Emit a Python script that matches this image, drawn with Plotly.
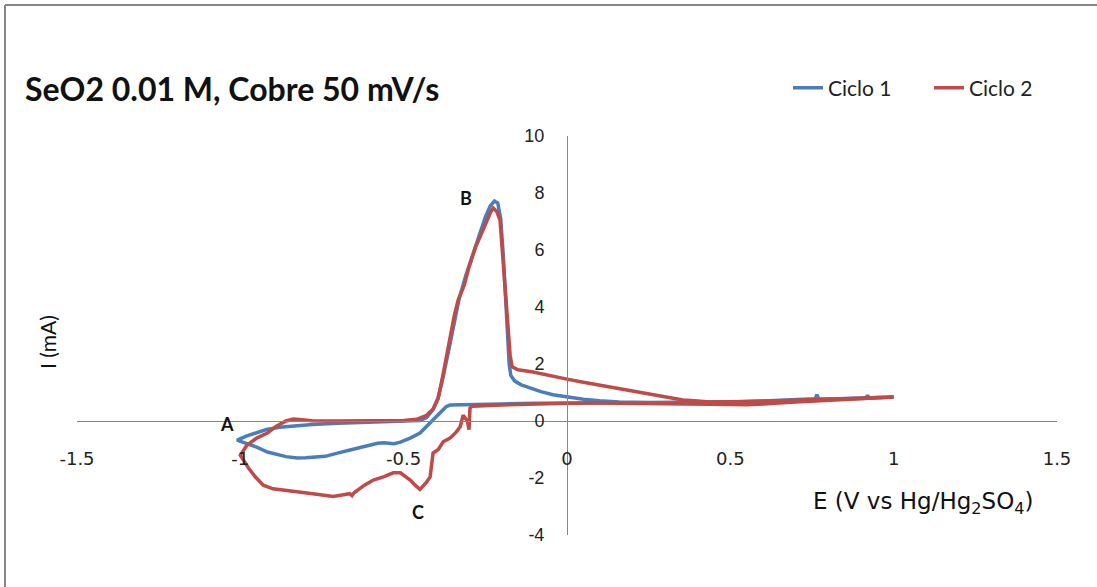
import plotly.graph_objects as go

# Cyclic voltammetry data, potential E (V vs Hg/Hg2SO4) and current I (mA)
ciclo1_E = [1.00, 0.95, 0.90, 0.80, 0.77, 0.765, 0.76, 0.70, 0.60, 0.50, 0.40, 0.30, 0.20, 0.10,
            0.00, -0.10, -0.20, -0.30, -0.358, -0.37, -0.38, -0.395, -0.41, -0.43, -0.45, -0.48,
            -0.51, -0.53, -0.56, -0.58, -0.62, -0.664, -0.70, -0.74, -0.80, -0.826, -0.86, -0.917,
            -0.95, -0.99, -1.01,
            -0.98, -0.95, -0.92, -0.88, -0.84, -0.78, -0.70, -0.60, -0.50, -0.45, -0.43, -0.41,
            -0.395, -0.38, -0.36, -0.345, -0.33, -0.31, -0.29, -0.27, -0.25, -0.235, -0.222,
            -0.212, -0.203, -0.195, -0.188, -0.182, -0.177, -0.172, -0.16, -0.14, -0.122, -0.08,
            -0.043, 0.00, 0.05, 0.10, 0.16, 0.25, 0.40, 0.55, 0.70, 0.85, 0.915, 0.92, 0.925, 1.00]
ciclo1_I = [0.84, 0.82, 0.80, 0.77, 0.78, 0.92, 0.78, 0.74, 0.70, 0.67, 0.65, 0.64, 0.64, 0.64,
            0.63, 0.62, 0.60, 0.58, 0.56, 0.50, 0.39, 0.20, 0.03, -0.20, -0.42, -0.60,
            -0.74, -0.80, -0.76, -0.78, -0.88, -1.02, -1.12, -1.24, -1.29, -1.30, -1.25, -1.09,
            -0.92, -0.75, -0.67,
            -0.52, -0.40, -0.30, -0.22, -0.18, -0.12, -0.08, -0.05, -0.02, 0.02, 0.12, 0.40,
            0.80, 1.50, 2.60, 3.50, 4.30, 5.10, 5.80, 6.50, 7.15, 7.55, 7.72,
            7.65, 7.10, 5.80, 4.20, 3.00, 2.00, 1.60, 1.40, 1.27, 1.20, 1.03,
            0.92, 0.85, 0.76, 0.71, 0.67, 0.65, 0.65, 0.68, 0.72, 0.78, 0.80, 0.90, 0.80, 0.84]

ciclo2_E = [1.00, 0.90, 0.80, 0.70, 0.60, 0.55, 0.50, 0.40, 0.30, 0.20, 0.10, 0.00, -0.10,
            -0.20, -0.29, -0.297, -0.30, -0.305, -0.318, -0.327, -0.34, -0.358, -0.379, -0.394,
            -0.41, -0.419, -0.43, -0.44, -0.45, -0.465, -0.48, -0.51, -0.532, -0.56, -0.593,
            -0.62, -0.642, -0.652, -0.658, -0.665, -0.68, -0.70, -0.716, -0.76, -0.817, -0.87,
            -0.90, -0.93, -0.955, -0.975, -0.99, -1.00,
            -0.98, -0.95, -0.917, -0.89, -0.86, -0.838, -0.82, -0.78, -0.70, -0.60, -0.50, -0.46,
            -0.43, -0.41, -0.394, -0.38, -0.36, -0.345, -0.333, -0.325, -0.315, -0.30, -0.28,
            -0.266, -0.25, -0.235, -0.226, -0.215, -0.205, -0.198, -0.19, -0.18, -0.174,
            -0.168, -0.15, -0.104, -0.05, 0.00, 0.05, 0.10, 0.153, 0.20, 0.25, 0.30, 0.355, 0.40,
            0.437, 0.55, 0.70, 0.85, 1.00]
ciclo2_I = [0.84, 0.79, 0.74, 0.67, 0.60, 0.57, 0.58, 0.60, 0.62, 0.63, 0.63, 0.62, 0.60,
            0.56, 0.52, 0.45, -0.30, 0.00, 0.20, -0.20, -0.40, -0.60, -0.73, -1.00,
            -1.12, -1.96, -2.15, -2.30, -2.40, -2.25, -2.07, -1.82, -1.82, -1.95, -2.07,
            -2.25, -2.42, -2.52, -2.62, -2.55, -2.58, -2.63, -2.65, -2.58, -2.50, -2.42,
            -2.38, -2.25, -1.95, -1.65, -1.40, -1.20,
            -0.85, -0.60, -0.42, -0.18, 0.00, 0.07, 0.05, 0.01, 0.00, 0.00, 0.02, 0.06,
            0.20, 0.42, 0.80, 1.60, 2.80, 3.70, 4.25, 4.45, 4.75, 5.40, 6.10,
            6.46, 6.90, 7.30, 7.47, 7.35, 7.05, 6.00, 4.95, 3.20, 2.30,
            1.90, 1.80, 1.72, 1.58, 1.47, 1.36, 1.26, 1.16, 1.06, 0.95, 0.84, 0.74, 0.70,
            0.67, 0.68, 0.72, 0.78, 0.84]

x_ticks = [-1.5, -1, -0.5, 0, 0.5, 1, 1.5]
x_tick_text = ["-1.5", "-1", "-0.5", "0", "0.5", "1", "1.5"]
y_ticks = [-4, -2, 0, 2, 4, 6, 8, 10]
y_tick_text = ["-4", "-2", "0", "2", "4", "6", "8", "10"]

peak_labels = ["A", "B", "C"]
peak_E = [-1.04, -0.31, -0.455]
peak_I = [-0.12, 7.82, -3.2]

BLUE = "#4a7ebb"
RED = "#be4b48"
AXIS = "#868686"

fig = go.Figure()
fig.add_trace(go.Scatter(x=ciclo1_E, y=ciclo1_I, mode="lines", name="Ciclo 1",
                         line=dict(color=BLUE, width=3.5)))
fig.add_trace(go.Scatter(x=ciclo2_E, y=ciclo2_I, mode="lines", name="Ciclo 2",
                         line=dict(color=RED, width=3.5)))

# Axes cross at the origin: each axis is anchored freely at the paper position of zero
fig.update_xaxes(range=[-1.5, 1.5], tickvals=x_ticks, ticktext=x_tick_text,
                 anchor="free", position=4 / 14, showline=True, linecolor=AXIS, linewidth=1,
                 showgrid=False, zeroline=False, ticks="", ticklabelstandoff=21,
                 tickfont=dict(family="DejaVu Sans", size=18, color="#222"))
fig.update_yaxes(range=[-4, 10], tickvals=y_ticks, ticktext=y_tick_text,
                 anchor="free", position=0.5, showline=True, linecolor=AXIS, linewidth=1,
                 showgrid=False, zeroline=False, ticks="", ticklabelstandoff=19,
                 tickfont=dict(family="Liberation Sans", size=18, color="#222"))

for lab, e, i in zip(peak_labels, peak_E, peak_I):
    fig.add_annotation(x=e, y=i, text="<b>%s</b>" % lab, showarrow=False,
                       font=dict(family="Lato", size=18, color="#111"))

fig.add_annotation(xref="paper", yref="paper", x=(923 - 77) / 980, y=(535 - 503) / 399,
                   xanchor="center", yanchor="middle",
                   text="E (V vs Hg/Hg<sub>2</sub>SO<sub>4</sub>)", showarrow=False,
                   font=dict(family="DejaVu Sans", size=23, color="#111"))
fig.add_annotation(xref="paper", yref="paper", x=(47 - 77) / 980, y=(535 - 342) / 399,
                   xanchor="center", yanchor="middle",
                   text="I (mA)", textangle=-90, showarrow=False,
                   font=dict(family="Lato", size=21, color="#111"))

# Chart frame (top and left edges)
fig.add_shape(type="line", xref="paper", yref="paper", x0=(5 - 77) / 980, x1=(1097 - 77) / 980,
              y0=(535 - 5) / 399, y1=(535 - 5) / 399, line=dict(color=AXIS, width=2))
fig.add_shape(type="line", xref="paper", yref="paper", x0=(5 - 77) / 980, x1=(5 - 77) / 980,
              y0=(535 - 5) / 399, y1=(535 - 600) / 399, line=dict(color=AXIS, width=2))

fig.update_layout(
    width=1097, height=587,
    margin=dict(l=77, r=40, t=136, b=52),
    paper_bgcolor="white", plot_bgcolor="white",
    title=dict(text="<b>SeO2 0.01 M, Cobre 50 mV/s</b>", x=25 / 1097, xanchor="left",
               y=1 - 90 / 587, yanchor="middle", yref="container",
               font=dict(family="Lato", size=32, color="#111")),
    legend=dict(orientation="h", x=(788 - 77) / 980, y=(535 - 88) / 399, xanchor="left",
                yanchor="middle", font=dict(family="Lato", size=21, color="#222"),
                bgcolor="rgba(0,0,0,0)", itemwidth=30, entrywidth=96),
    showlegend=True,
)

fig.write_html("out.html")
